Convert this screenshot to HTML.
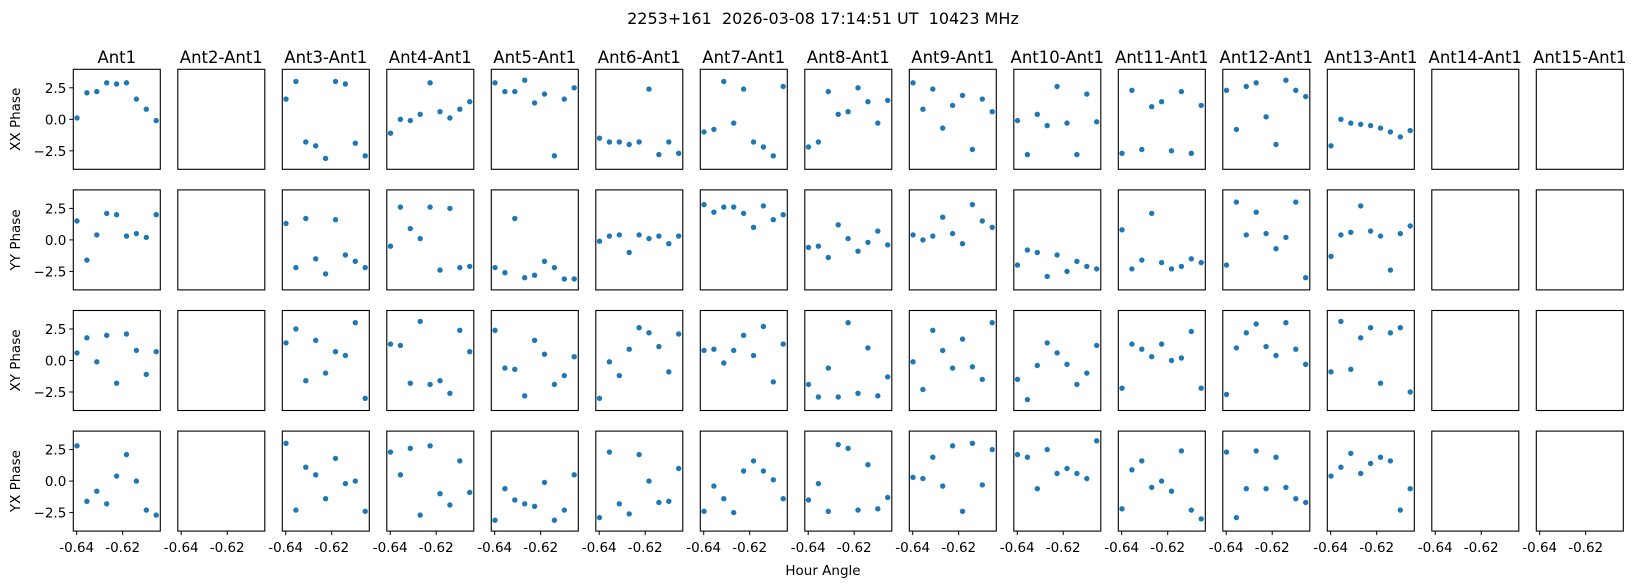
<!DOCTYPE html>
<html><head><meta charset="utf-8"><style>
body{margin:0;background:#fff;}
svg{display:block;font-family:"DejaVu Sans","Liberation Sans",sans-serif;}
</style></head><body>
<svg id="s" width="1636" height="586" xmlns="http://www.w3.org/2000/svg"></svg>
<script>
const D=[
[[0.1,2.1,2.2,2.9,2.8,2.9,1.6,0.8,-0.1],null,[1.6,3.0,-1.8,-2.1,-3.1,3.0,2.8,-1.9,-2.9],[-1.1,0.0,-0.1,0.4,2.9,0.6,0.1,0.8,1.4],[2.9,2.2,2.2,3.1,1.3,2.0,-2.9,1.6,2.5],[-1.5,-1.8,-1.8,-2.0,-1.8,2.4,-2.8,-1.8,-2.7],[-1.0,-0.8,3.0,-0.3,2.4,-1.8,-2.2,-2.9,2.6],[-2.2,-1.8,2.2,0.4,0.6,2.5,1.4,-0.3,1.5],[2.9,0.8,2.4,-0.7,1.1,1.9,-2.4,1.6,0.6],[-0.1,-2.8,0.4,-0.5,2.6,-0.3,-2.8,2.0,-0.2],[-2.7,2.3,-2.4,1.0,1.4,-2.5,2.2,-2.7,1.1],[2.3,-0.8,2.6,2.9,0.2,-2.0,3.1,2.3,1.8],[-2.1,0.0,-0.3,-0.4,-0.5,-0.7,-1.0,-1.4,-0.9]],
[[1.5,-1.6,0.4,2.1,2.0,0.3,0.5,0.2,2.0],null,[1.3,-2.2,1.7,-1.5,-2.7,1.6,-1.2,-1.7,-2.2],[-0.5,2.6,0.9,0.1,2.6,-2.4,2.5,-2.2,-2.1],[-2.2,-2.6,1.7,-3.0,-2.8,-1.7,-2.2,-3.1,-3.1],[-0.1,0.3,0.4,-1.0,0.4,0.1,0.3,-0.3,0.3],[2.8,2.2,2.6,2.6,2.1,1.0,2.7,1.6,2.0],[-0.6,-0.5,-1.4,1.2,0.1,-0.9,-0.2,0.7,-0.4],[0.4,0.0,0.3,1.8,0.5,-0.3,2.8,1.5,1.0],[-2.0,-0.8,-1.0,-2.9,-1.2,-2.5,-1.7,-2.1,-2.3],[0.8,-2.3,-1.6,2.1,-1.8,-2.3,-2.1,-1.5,-1.8],[-2.0,3.0,0.4,2.2,0.5,-0.7,0.2,3.0,-3.0],[-1.3,0.4,0.6,2.7,0.7,0.3,-2.4,0.5,1.1]],
[[0.6,1.8,-0.1,2.0,-1.8,2.1,0.8,-1.1,0.7],null,[1.4,2.5,-1.6,1.6,-1.0,0.7,0.4,3.0,-3.0],[1.3,1.2,-1.8,3.1,-1.9,-1.6,-2.6,2.4,0.7],[2.4,-0.6,-0.7,-2.8,1.6,0.5,-1.9,-1.2,0.3],[-3.0,-0.1,-1.2,0.9,2.6,2.2,1.1,-0.9,2.1],[0.8,0.9,-0.2,0.8,2.0,0.4,2.7,-1.7,1.3],[-1.9,-2.9,-0.6,-2.9,3.0,-2.6,1.0,-2.8,-1.3],[-0.1,-2.3,2.4,0.8,-0.6,1.7,-0.5,-1.5,3.0],[-1.5,-3.1,-0.4,1.4,0.6,-0.3,-1.9,-1.0,1.2],[-2.2,1.3,0.9,0.3,1.3,0.0,0.2,2.3,-2.2],[-2.7,1.0,2.2,2.9,1.1,0.4,3.0,0.9,-0.3],[-0.9,3.1,-0.7,1.8,2.6,-1.8,2.2,2.6,-2.5]],
[[2.8,-1.6,-0.8,-1.8,0.4,2.1,0.0,-2.3,-2.7],null,[3.0,-2.3,1.1,0.5,-1.4,1.8,-0.2,0.0,-2.4],[2.3,0.5,2.6,-2.7,2.8,-1.0,-1.9,1.6,-0.9],[-3.1,-0.6,-1.5,-1.8,-2.0,-0.1,-3.1,-2.3,0.5],[-2.9,2.3,-1.8,-2.6,2.1,0.0,-1.7,-1.6,1.0],[-2.4,-0.4,-1.4,-2.5,0.8,1.6,0.8,0.1,-1.4],[-1.5,-0.2,-2.4,2.9,2.6,-2.3,1.3,-2.2,-1.3],[0.3,0.2,1.9,-0.4,2.8,-2.4,3.0,-0.3,2.5],[2.1,1.9,-0.6,2.5,0.6,1.0,0.6,0.2,3.2],[-2.2,0.9,1.6,-0.5,0.0,-0.8,2.4,-2.3,-3.0],[2.3,-2.9,-0.6,2.4,-0.6,1.9,-0.5,-1.4,-1.7],[0.4,1.1,2.2,0.6,1.4,1.9,1.6,-2.3,-0.6]]];
const rows=["XX Phase","YY Phase","XY Phase","YX Phase"];
let h='<text x="823" y="24" font-size="16" text-anchor="middle" xml:space="preserve" style="white-space:pre">2253+161  2026-03-08 17:14:51 UT  10423 MHz</text>';
h+='<text x="823" y="575" font-size="13.5" text-anchor="middle">Hour Angle</text>';
const L0=73.3,DX=104.5,W=87,T0=69.3,DY=120.6,H=100,S=12.6;
for(let c=0;c<15;c++){
 const x0=L0+c*DX;
 const t=c==0?"Ant1":"Ant"+(c+1)+"-Ant1";
 h+=`<text x="${x0+W/2}" y="63" font-size="16.5" text-anchor="middle">${t}</text>`;
 for(let r=0;r<4;r++){
  const y0=T0+r*DY, cy=y0+H/2;
  const d=(c<13)?D[r][c]:null;
  if(d){d.forEach((v,i)=>{h+=`<circle cx="${(x0+3.7+i*9.9).toFixed(1)}" cy="${(cy-v*S).toFixed(1)}" r="2.7" fill="#1f77b4"/>`;});}
  h+=`<rect x="${x0}" y="${y0}" width="${W}" height="${H}" fill="none" stroke="#000" stroke-width="1.1"/>`;
  if(c==0){
   [2.5,0,-2.5].forEach(v=>{const yy=cy-v*S;h+=`<line x1="${x0-4}" x2="${x0}" y1="${yy}" y2="${yy}" stroke="#000"/><text x="${x0-7}" y="${yy+5}" font-size="13.5" text-anchor="end">${v==0?"0.0":(v>0?"2.5":"\u22122.5")}</text>`;});
   h+=`<text transform="translate(20,${cy}) rotate(-90)" font-size="13.5" text-anchor="middle">${rows[r]}</text>`;
  }
  if(r==3){
   [[3.4,"-0.64"],[49.4,"-0.62"]].forEach(([o,s])=>{const xx=x0+o;h+=`<line x1="${xx}" x2="${xx}" y1="${y0+H}" y2="${y0+H+4}" stroke="#000"/><text x="${xx}" y="${y0+H+21}" font-size="13.5" text-anchor="middle">${s}</text>`;});
  }
 }
}
document.getElementById('s').innerHTML=h;
</script>
</body></html>
